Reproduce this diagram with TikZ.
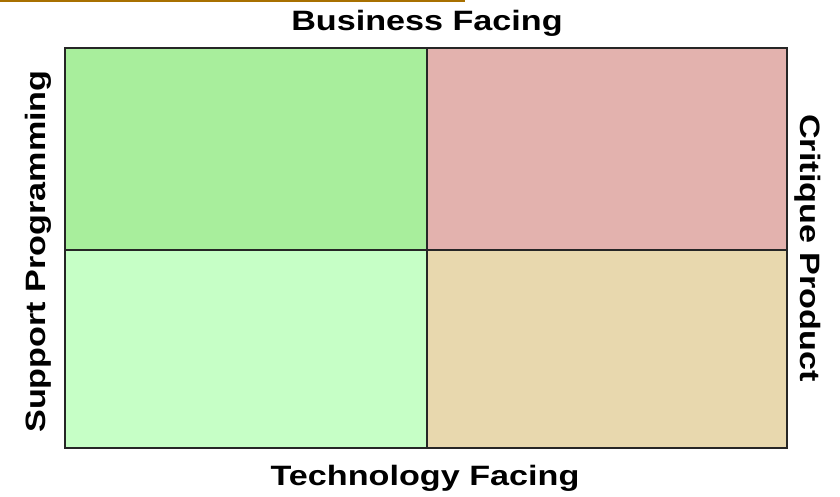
\documentclass[tikz,border=0pt]{standalone}
\usepackage{fontspec}
\setmainfont{Liberation Sans}
\usepackage{graphicx}
\usetikzlibrary{positioning}
\definecolor{quadA}{RGB}{168,238,156}
\definecolor{quadB}{RGB}{227,178,174}
\definecolor{quadC}{RGB}{198,255,198}
\definecolor{quadD}{RGB}{232,216,174}
\definecolor{rulecol}{RGB}{168,112,0}
\tikzset{
    x=1pt, y=-1pt, % pixel-like units, origin at the top left
    cell/.style={draw=black!85, line width=1.6pt, inner sep=0pt, minimum width=362pt}, % one quadrant
    axis/.style={font=\fontsize{28}{30}\selectfont\bfseries, inner sep=0pt, anchor=base}, % side labels
}
\newcommand{\stretchtext}[1]{\scalebox{1.22}[1]{#1}}

\begin{document}
\begin{tikzpicture}
    \useasboundingbox (0,0) rectangle (840,497);
    \fill[white] (0,0) rectangle (840,497);
    \draw[rulecol, line width=2pt] (0,1) -- (465,1);
    \node[cell, fill=quadA, minimum height=202pt] (plan) at (246,149) {};
    \node[cell, fill=quadB, minimum height=202pt, minimum width=360pt] (judge) at (607,149) {};
    \node[cell, fill=quadC, minimum height=198pt] (build) at (246,349) {};
    \node[cell, fill=quadD, minimum height=198pt, minimum width=360pt] (probe) at (607,349) {};
    \node[axis] (top) at (427,31) {\stretchtext{Business Facing}};
    \node[axis] (bottom) at (425,485) {\stretchtext{Technology Facing}};
    \node[axis, rotate=90] (left) at (45,251.5) {\stretchtext{Support Programming}};
    \node[axis, rotate=-90] (right) at (800,248) {\stretchtext{Critique Product}};
\end{tikzpicture}
\end{document}
